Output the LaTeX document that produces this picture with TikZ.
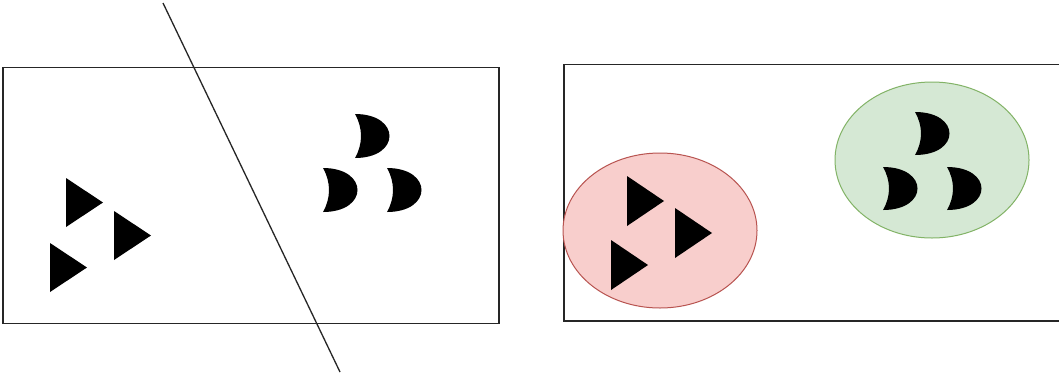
\documentclass[tikz,border=0pt]{standalone}
\usetikzlibrary{shapes.geometric}
\definecolor{redfill}{HTML}{F8CECC}
\definecolor{redline}{HTML}{B85450}
\definecolor{greenfill}{HTML}{D5E8D4}
\definecolor{greenline}{HTML}{82B366}
\tikzset{
  frame/.style={draw=black!85, line width=1.3pt},
  tri/.style={fill=black},
  moonfill/.style={fill=black},
  cut/.style={draw=black!85, line width=1.3pt},
  redblob/.style={ellipse, draw=redline, fill=redfill, line width=1pt, minimum width=194pt, minimum height=155pt, inner sep=0pt},
  greenblob/.style={ellipse, draw=greenline, fill=greenfill, line width=1pt, minimum width=194pt, minimum height=156pt, inner sep=0pt}
}
\newcommand{\trishape}[3]{% left x, top y, height
  \fill[tri] (#1,#2) -- (#1,#2+#3) -- ({#1+37},{#2+#3/2}) -- cycle;}
\newcommand{\moonshape}[3]{% tip x, top tip y, bottom tip y
  \fill[moonfill] (#1,#2) .. controls ({#1+46},#2) and ({#1+46},#3) .. (#1,#3)
     .. controls ({#1+8},{#3-14}) and ({#1+8},{#2+14}) .. (#1,#2) -- cycle;}
\begin{document}
\begin{tikzpicture}[x=1pt,y=-1pt]
\useasboundingbox (0,0) rectangle (1059,373);
\clip (0,0) rectangle (1059,373);
\fill[white] (0,0) rectangle (1059,373);
% left panel
\draw[frame] (3,67.5) rectangle (499,323.5);
\coordinate (cutA) at (163,3);
\coordinate (cutB) at (340,372);
\draw[cut] (cutA) -- (cutB);
\trishape{66}{178}{49}
\trishape{114}{211}{49}
\trishape{50}{243}{49}
\moonshape{355}{114}{158}
\moonshape{323}{168}{212}
\moonshape{387}{168}{212}
% right panel
\draw[frame] (564,64.5) rectangle (1065,321);
\node[redblob] (red) at (660,230.5) {};
\node[greenblob] (green) at (932,160) {};
\trishape{627}{176}{50}
\trishape{675}{208}{50}
\trishape{611}{240}{50}
\moonshape{915}{112}{155}
\moonshape{883}{167}{210}
\moonshape{947}{167}{210}
\end{tikzpicture}
\end{document}
